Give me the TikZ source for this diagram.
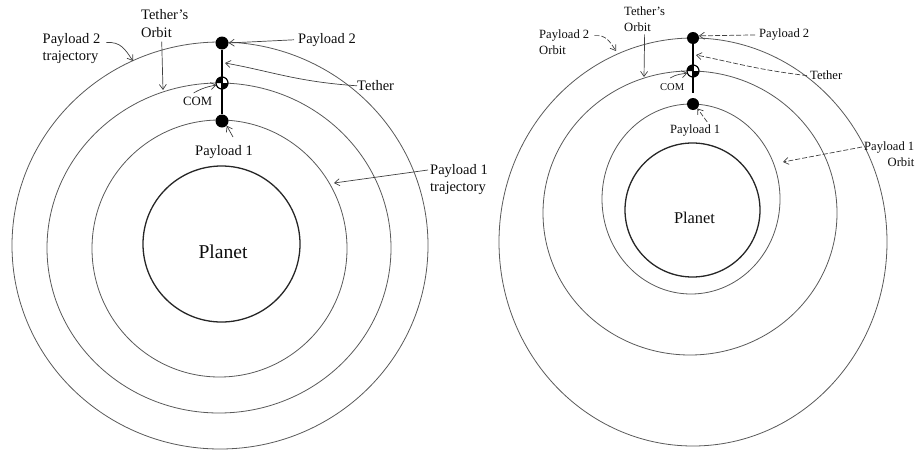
\documentclass[tikz,border=0pt]{standalone}
\usepackage{fontspec}
\setmainfont{Liberation Serif}
\usetikzlibrary{arrows.meta,calc}

\begin{document}
\begin{tikzpicture}[x=1pt, y=-1pt,
  orbit/.style={draw=black!65, line width=0.8pt},
  planetline/.style={draw=black!85, line width=1.3pt},
  lbl/.style={inner sep=0pt, anchor=north west, align=left, text=black!95, font=\fontsize{14.5}{17.5}\selectfont},
  lblsm/.style={lbl, font=\fontsize{12.6}{16}\selectfont},
  ptr/.style={draw=black!75, line width=0.7pt, -{Straight Barb[length=5pt,width=7pt]}},
  ptrdash/.style={ptr, dash pattern=on 5pt off 2pt},
  mass/.style={circle, fill=black, inner sep=0pt, minimum size=13pt},
  com/.style={circle, draw=black, line width=1.2pt, fill=white, inner sep=0pt, outer sep=0pt, minimum size=12pt},
  tether/.style={draw=black, line width=2.4pt}]

\useasboundingbox (0,0) rectangle (917,450);

% left picture
\draw[orbit] (220,245.5) ellipse [x radius=208pt, y radius=203.5pt];
\draw[orbit] (219,248) ellipse [x radius=172pt, y radius=165pt];
\draw[orbit] (219.5,248.5) ellipse [x radius=127.5pt, y radius=128.5pt];
\draw[planetline] (221.5,244) ellipse [x radius=78.5pt, y radius=78pt];
\node[text=black!95, font=\fontsize{19.6}{22}\selectfont] (planetL) at (223,251.3) {Planet};

\node[mass] (p2L) at (222,43) {};
\node[mass] (p1L) at (222,121) {};
\node[com] (comL) at (222,83) {};
\fill (comL.center) -- (comL.north) arc[start angle=90, end angle=180, radius=6pt] -- cycle;
\fill (comL.center) -- (comL.south) arc[start angle=270, end angle=360, radius=6pt] -- cycle;
\draw[tether] (p2L) -- (p1L);

\node[lbl] (tOrbL) at (141,9.5) {Tether's\\Orbit};
\node[lbl] (p2trajL) at (42.5,33) {Payload 2\\trajectory};
\node[lbl] (p2lblL) at (298,33) {Payload 2};
\node[lbl] (tethL) at (357,80.5) {Tether};
\node[lbl, font=\fontsize{12.7}{14}\selectfont] (comlblL) at (183,97) {COM};
\node[lbl] (p1lblL) at (195,145) {Payload 1};
\node[lbl] (p1trajL) at (430,164) {Payload 1\\trajectory};

\coordinate (tOrbTgtL) at (163,90);
\coordinate (p2TgtL) at (133,61);
\coordinate (tethTgtL) at (225,63);
\coordinate (p1TgtL) at (334,183);

\draw[ptr] ([xshift=-3pt,yshift=-4pt]tOrbL.south) -- (tOrbTgtL);
\draw[ptr] ([xshift=6pt,yshift=6pt]p2trajL.east) .. controls +(14,-1) and +(-8,-12) .. (p2TgtL);
\draw[ptr] ([xshift=-4pt]p2lblL.west) -- (p2L.east);
\draw[ptr] (tethL.west) .. controls +(-60,-4) and +(45,8) .. (tethTgtL);
\draw[ptr] ([xshift=-4pt,yshift=4pt]comlblL.north) .. controls +(8,-5) and +(-6,1) .. (comL.200);
\draw[ptr] ([xshift=9pt,yshift=8pt]p1lblL.north) -- (p1L.south east);
\draw[ptr] ([xshift=-2pt,yshift=-6pt]p1trajL.north west) -- (p1TgtL);

% right picture
\draw[orbit] (693,242) ellipse [x radius=194pt, y radius=204pt];
\draw[orbit] (690,213) ellipse [x radius=147pt, y radius=142pt];
\draw[orbit] (691,199) ellipse [x radius=89pt, y radius=95pt];
\draw[planetline] (692.5,210) ellipse [x radius=67.5pt, y radius=67pt];
\node[text=black!95, font=\fontsize{16.4}{19}\selectfont] (planetR) at (694.5,217.4) {Planet};

\node[mass, minimum size=12pt] (p2R) at (693,38) {};
\node[mass, minimum size=12pt] (p1R) at (693,104) {};
\node[com] (comR) at (693,71) {};
\fill (comR.center) -- (comR.north) arc[start angle=90, end angle=180, radius=6pt] -- cycle;
\fill (comR.center) -- (comR.south) arc[start angle=270, end angle=360, radius=6pt] -- cycle;
\coordinate (tethEndR) at (693,93);
\draw[tether] (p2R) -- (tethEndR);

\node[lblsm] (tOrbR) at (624,7) {Tether's\\Orbit};
\node[lblsm] (p2orbR) at (539,30) {Payload 2\\Orbit};
\node[lblsm] (p2lblR) at (759,29) {Payload 2};
\node[lblsm] (tethR) at (810,71) {Tether};
\node[lblsm, font=\fontsize{10.5}{12}\selectfont] (comlblR) at (660,83) {COM};
\node[lblsm] (p1lblR) at (670,125) {Payload 1};
\node[lblsm, align=right] (p1orbR) at (864,142) {Payload 1\\Orbit};

\coordinate (tOrbTgtR) at (644,77);
\coordinate (p2TgtR) at (616,51);
\coordinate (tethTgtR) at (696,55);
\coordinate (p1TgtR) at (783,162);

\draw[ptr] ([yshift=-2pt]tOrbR.south) -- (tOrbTgtR);
\draw[ptrdash] ([xshift=5pt,yshift=7pt]p2orbR.east) .. controls +(12,-1) and +(-6,-9) .. (p2TgtR);
\draw[ptrdash] ([xshift=-4pt]p2lblR.west) -- (p2R.20);
\draw[ptrdash] ([xshift=-3pt]tethR.west) .. controls +(-50,-6) and +(40,8) .. (tethTgtR);
\draw[ptr] ([xshift=-2pt,yshift=5pt]comlblR.north) .. controls +(6,-4) and +(-5,1) .. (comR.200);
\draw[ptrdash] ([xshift=12pt,yshift=3pt]p1lblR.north) -- (p1R.south east);
\draw[ptrdash] ([xshift=-2pt,yshift=-5pt]p1orbR.north west) -- (p1TgtR);
\end{tikzpicture}
\end{document}
